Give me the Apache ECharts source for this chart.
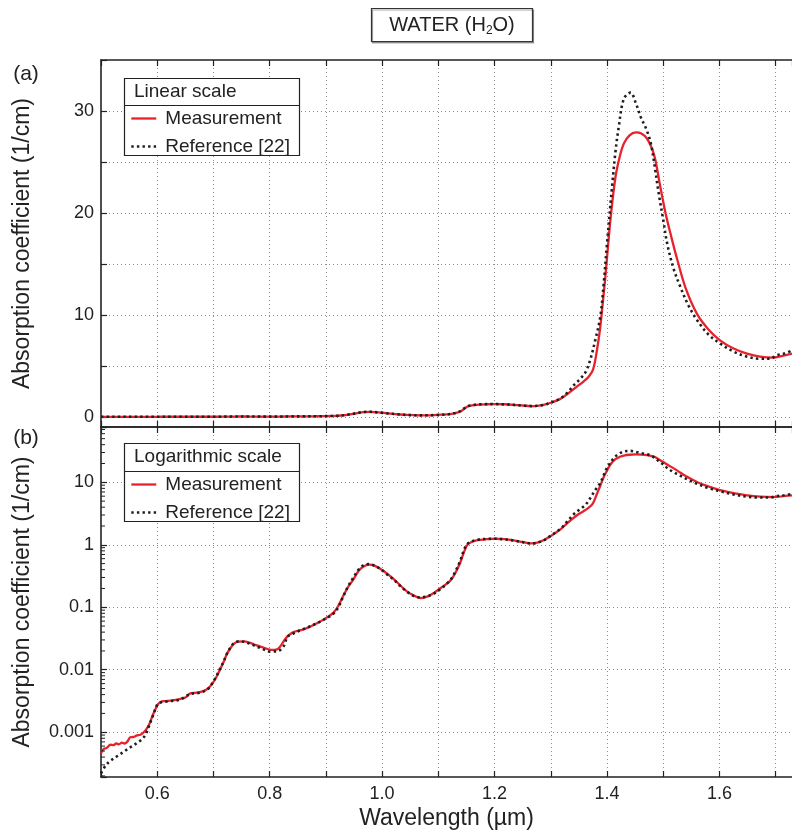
<!DOCTYPE html>
<html><head><meta charset="utf-8">
<script src="https://cdn.jsdelivr.net/npm/echarts@6/dist/echarts.min.js"></script>
<style>html,body{margin:0;padding:0;background:#fff}#c{width:792px;height:831px}</style>
</head><body><div id="c"></div><script>
// ---- data ----
const measWavelength = [
 0.500,0.505,0.510,0.517,0.522,0.527,0.532,0.537,0.542,0.547,
 0.552,0.558,0.564,0.570,0.576,0.582,0.587,0.591,0.596,0.600,
 0.606,0.615,0.624,0.632,0.640,0.650,0.659,0.670,0.683,0.691,
 0.698,0.705,0.712,0.718,0.724,0.730,0.736,0.745,0.754,0.765,
 0.777,0.790,0.800,0.808,0.815,0.822,0.830,0.842,0.855,0.866,
 0.885,0.900,0.914,0.922,0.931,0.940,0.949,0.958,0.967,0.977,
 0.987,0.997,1.010,1.021,1.032,1.044,1.056,1.068,1.080,1.092,
 1.105,1.121,1.130,1.139,1.145,1.151,1.158,1.168,1.185,1.201,
 1.218,1.234,1.250,1.266,1.276,1.287,1.300,1.317,1.330,1.346,
 1.358,1.367,1.375,1.382,1.388,1.393,1.397,1.406,1.415,1.423,
 1.430,1.440,1.451,1.461,1.471,1.480,1.486,1.494,1.504,1.515,
 1.525,1.540,1.560,1.580,1.601,1.625,1.649,1.672,1.696,1.710,
 1.729];
const measurement = [
 4.6e-4,5.4e-4,5.6e-4,6.3e-4,6.2e-4,6.6e-4,6.4e-4,6.8e-4,6.6e-4,7.1e-4,
 8.3e-4,8.4e-4,8.9e-4,9.1e-4,1.0e-3,1.16e-3,1.42e-3,1.78e-3,2.25e-3,2.7e-3,
 3.05e-3,3.15e-3,3.2e-3,3.3e-3,3.4e-3,3.6e-3,4.2e-3,4.3e-3,4.6e-3,5.1e-3,
 6.0e-3,7.6e-3,0.0102,0.0133,0.018,0.022,0.026,0.0282,0.0284,0.027,
 0.0245,0.0225,0.021,0.0208,0.0217,0.026,0.033,0.040,0.043,0.0463,
 0.056,0.067,0.083,0.105,0.153,0.215,0.28,0.38,0.45,0.48,
 0.46,0.41,0.34,0.28,0.225,0.18,0.155,0.14,0.148,0.17,
 0.205,0.265,0.35,0.52,0.74,0.98,1.1,1.18,1.23,1.25,
 1.23,1.18,1.11,1.05,1.08,1.18,1.38,1.76,2.25,2.94,
 3.45,3.9,4.6,6.5,8.8,11.5,13.7,19.3,23.5,25.6,
 26.8,27.6,27.9,27.8,27.3,26.3,25.2,22.8,20.0,17.5,
 15.4,12.6,10.1,8.6,7.5,6.7,6.2,5.9,5.8,5.95,
 6.2];
const refWavelength = [
 0.500,0.508,0.517,0.530,0.541,0.553,0.564,0.572,0.579,0.586,
 0.593,0.600,0.606,0.624,0.640,0.650,0.659,0.670,0.683,0.691,
 0.698,0.705,0.712,0.718,0.724,0.730,0.736,0.745,0.754,0.765,
 0.777,0.790,0.800,0.815,0.825,0.832,0.842,0.855,0.866,0.885,
 0.900,0.914,0.922,0.931,0.940,0.949,0.958,0.967,0.977,0.987,
 0.997,1.010,1.021,1.032,1.044,1.056,1.068,1.080,1.092,1.105,
 1.121,1.130,1.139,1.145,1.151,1.158,1.168,1.185,1.201,1.218,
 1.234,1.250,1.266,1.276,1.287,1.300,1.317,1.330,1.341,1.352,
 1.362,1.370,1.379,1.388,1.394,1.400,1.409,1.415,1.421,1.430,
 1.442,1.451,1.460,1.470,1.478,1.485,1.492,1.500,1.507,1.518,
 1.530,1.545,1.560,1.580,1.601,1.625,1.649,1.670,1.690,1.702,
 1.715,1.729];
const reference = [
 2.2e-4,2.9e-4,3.5e-4,4.2e-4,4.9e-4,5.8e-4,6.7e-4,7.6e-4,9.1e-4,1.3e-3,
 1.9e-3,2.75e-3,3.0e-3,3.15e-3,3.3e-3,3.7e-3,4.1e-3,4.2e-3,4.5e-3,5.0e-3,
 6.1e-3,7.8e-3,0.0105,0.0135,0.018,0.0225,0.0265,0.0285,0.028,0.026,
 0.0235,0.021,0.0195,0.020,0.024,0.034,0.038,0.043,0.047,0.056,
 0.066,0.080,0.10,0.15,0.22,0.30,0.40,0.47,0.49,0.46,
 0.41,0.33,0.275,0.22,0.178,0.152,0.145,0.15,0.165,0.20,
 0.27,0.37,0.56,0.8,1.02,1.12,1.2,1.24,1.25,1.22,
 1.17,1.10,1.05,1.08,1.17,1.4,1.8,2.4,3.1,3.7,
 4.4,5.56,7.5,9.8,13.0,17.0,22.6,26.0,28.5,31.2,
 31.8,30.8,29.4,28.2,26.8,24.5,21.9,19.3,17.0,14.6,
 12.8,10.9,9.5,8.1,7.2,6.4,5.9,5.7,5.7,6.05,
 6.2,6.5];
const xTickLabels = ['0.6','0.8','1.0','1.2','1.4','1.6'];
const linearTickLabels = ['0','10','20','30'];
const logTickLabels = ['0.001','0.01','0.1','1','10'];
const seriesNames = ['Measurement','Reference [22]'];

// ---- chart ----
const FONT = "'Liberation Sans', Arial, sans-serif";
const INK = '#222';
const X_MIN = 0.5, X_MAX = 1.729;
const LIN_MIN = -1, LIN_MAX = 35;
const LOG_MIN = 1.92e-4, LOG_MAX = 76.8;

const measData = measWavelength.map((x, i) => [x, measurement[i]]);
const refData = refWavelength.map((x, i) => [x, reference[i]]);

const gridLine = {show: true, lineStyle: {color: '#8c8c8c', type: [1, 3], width: 1}};
const axLine = {show: true, onZero: false, lineStyle: {color: INK, width: 1.6}};
const inTick = {show: true, inside: true, length: 6, lineStyle: {color: INK, width: 1.2}};

function xLabelFmt(v) {
  const s = v.toFixed(1);
  return xTickLabels.indexOf(s) >= 0 && Math.abs(v - parseFloat(s)) < 1e-6 ? s : '';
}
function linLabelFmt(v) {
  const s = String(Math.round(v));
  return Math.abs(v - Math.round(v)) < 1e-6 && linearTickLabels.indexOf(s) >= 0 ? s : '';
}
function logLabelFmt(v) {
  const e = Math.log10(v);
  if (Math.abs(e - Math.round(e)) > 1e-6) return '';
  const r = Math.round(e);
  const s = r >= 0 ? String(Math.round(v)) : v.toFixed(-r);
  return logTickLabels.indexOf(s) >= 0 ? s : '';
}

const minorLogTicks = [];
for (let e = -4; e <= 1; e++) for (let k = 2; k <= 9; k++) {
  const v = k * Math.pow(10, e);
  if (v > LOG_MIN && v < LOG_MAX) minorLogTicks.push(v);
}

function xAxisCfg(grid, pos, labels) {
  return {
    type: 'value', gridIndex: grid, position: pos, min: X_MIN, max: X_MAX, interval: 0.1,
    axisLine: axLine, axisTick: inTick,
    axisLabel: labels ? {show: true, formatter: xLabelFmt, color: INK, fontSize: 18, fontFamily: FONT, margin: 8, showMaxLabel: false} : {show: false},
    splitLine: pos === 'bottom' ? Object.assign({showMinLine: false, showMaxLine: false}, gridLine) : {show: false},
    name: labels ? 'Wavelength (µm)' : '', nameLocation: 'middle', nameGap: 30,
    nameTextStyle: {color: INK, fontSize: 23, fontFamily: FONT}
  };
}

const lineRed = {color: '#e8222c', width: 2.3};
const lineDot = {color: '#1e1e1e', width: 2.6, type: [2.4, 3.2], cap: 'butt'};

function lineSeries(name, xi, yi, data, style, z) {
  return {name: name, type: 'line', xAxisIndex: xi, yAxisIndex: yi, data: data,
    symbol: 'none', showSymbol: false, smooth: 0.35,
    lineStyle: style, itemStyle: {color: style.color}, z: z, silent: true};
}

function legendCfg(top) {
  return {
    data: seriesNames, orient: 'vertical', left: 130, top: top, itemWidth: 25, itemHeight: 14, itemGap: 9,
    padding: 0, textStyle: {color: INK, fontSize: 19, fontFamily: FONT, padding: [0, 0, 0, 4]}, z: 12,
    selectedMode: false,
    itemStyle: {opacity: 0, borderWidth: 0},
    lineStyle: {width: 'inherit', type: 'inherit', color: 'inherit'}
  };
}

const option = {
  animation: false,
  backgroundColor: '#fff',
  grid: [
    {left: 101, right: 0, top: 60, height: 367, containLabel: false},
    {left: 101, right: 0, top: 427, height: 352, containLabel: false}
  ],
  xAxis: [
    xAxisCfg(0, 'bottom', false),
    xAxisCfg(0, 'top', false),
    xAxisCfg(1, 'bottom', true),
    xAxisCfg(1, 'top', false)
  ],
  yAxis: [
    {
      type: 'value', gridIndex: 0, min: LIN_MIN, max: LIN_MAX, splitNumber: 7,
      axisLine: axLine, axisTick: inTick,
      axisLabel: {formatter: linLabelFmt, color: INK, fontSize: 18, fontFamily: FONT, margin: 7},
      splitLine: Object.assign({showMinLine: false, showMaxLine: false}, gridLine),
      name: 'Absorption coefficient (1/cm)', nameLocation: 'middle', nameGap: 67,
      nameTextStyle: {color: INK, fontSize: 23, fontFamily: FONT}
    },
    {
      type: 'log', logBase: 10, gridIndex: 1, min: LOG_MIN, max: LOG_MAX,
      axisLine: axLine, axisTick: inTick,
      axisLabel: {formatter: logLabelFmt, color: INK, fontSize: 18, fontFamily: FONT, margin: 7},
      splitLine: Object.assign({showMinLine: false, showMaxLine: false}, gridLine),
      name: 'Absorption coefficient (1/cm)', nameLocation: 'middle', nameGap: 67,
      nameTextStyle: {color: INK, fontSize: 23, fontFamily: FONT}
    }
  ],
  legend: [legendCfg(109), legendCfg(475)],
  graphic: [
    {type: 'rect', z: 10, shape: {x: 371.5, y: 8.5, width: 161, height: 33},
     style: {fill: '#fff', stroke: '#333', lineWidth: 1.2, shadowColor: 'rgba(0,0,0,0.35)', shadowOffsetX: 1, shadowOffsetY: 1.5}},
    {type: 'text', z: 11, x: 452, y: 25,
     style: {text: '{a|WATER (H}{s|2}{a|O)}', align: 'center', verticalAlign: 'middle',
       rich: {a: {fontSize: 20, fontFamily: FONT, fill: INK, lineHeight: 24, verticalAlign: 'middle'},
              s: {fontSize: 12, fontFamily: FONT, fill: INK, lineHeight: 12, verticalAlign: 'bottom'}}}},
    {type: 'text', z: 11, x: 26, y: 74, style: {text: '(a)', fontSize: 21, fontFamily: FONT, fill: INK, align: 'center', verticalAlign: 'middle'}},
    {type: 'text', z: 11, x: 26, y: 438, style: {text: '(b)', fontSize: 21, fontFamily: FONT, fill: INK, align: 'center', verticalAlign: 'middle'}},
    // legend boxes
    {type: 'rect', z: 10, shape: {x: 124.5, y: 78.5, width: 175, height: 77}, style: {fill: '#fff', stroke: INK, lineWidth: 1.2}},
    {type: 'line', z: 10, shape: {x1: 124.5, y1: 105.5, x2: 299.5, y2: 105.5}, style: {stroke: INK, lineWidth: 1.2}},
    {type: 'text', z: 11, x: 134, y: 92, style: {text: 'Linear scale', fontSize: 19, fontFamily: FONT, fill: INK, verticalAlign: 'middle'}},
    {type: 'rect', z: 10, shape: {x: 124.5, y: 443.5, width: 175, height: 78}, style: {fill: '#fff', stroke: INK, lineWidth: 1.2}},
    {type: 'line', z: 10, shape: {x1: 124.5, y1: 471.5, x2: 299.5, y2: 471.5}, style: {stroke: INK, lineWidth: 1.2}},
    {type: 'text', z: 11, x: 134, y: 457, style: {text: 'Logarithmic scale', fontSize: 19, fontFamily: FONT, fill: INK, verticalAlign: 'middle'}}
  ],
  series: [
    lineSeries(seriesNames[0], 0, 0, measData, lineRed, 3),
    lineSeries(seriesNames[1], 0, 0, refData, lineDot, 4),
    lineSeries(seriesNames[0], 2, 1, measData, lineRed, 3),
    lineSeries(seriesNames[1], 2, 1, refData, lineDot, 4),
    {name: 'minor ticks', type: 'custom', xAxisIndex: 2, yAxisIndex: 1, silent: true, z: 5,
     data: minorLogTicks.map(v => [X_MIN, v]),
     renderItem: function (params, api) {
       const p = api.coord([api.value(0), api.value(1)]);
       return {type: 'line', shape: {x1: p[0], y1: p[1], x2: p[0] + 4, y2: p[1]}, style: {stroke: INK, lineWidth: 1}};
     }}
  ]
};
const chart = echarts.init(document.getElementById('c'), null, {renderer: 'canvas'});
chart.setOption(option);
</script></body></html>
